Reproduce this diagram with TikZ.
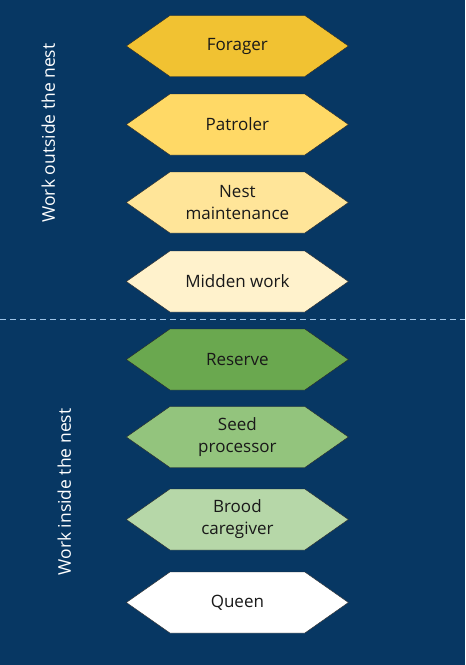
\documentclass[tikz,border=0pt]{standalone}
\usepackage{fontspec}
\setmainfont{Open Sans}
\usetikzlibrary{shapes.symbols}
\definecolor{NavyBg}{HTML}{073763}
\definecolor{SepBlue}{HTML}{9FC5E8}
\definecolor{ForagerFill}{HTML}{F1C232}
\definecolor{PatrolerFill}{HTML}{FFD966}
\definecolor{NestFill}{HTML}{FFE599}
\definecolor{MiddenFill}{HTML}{FFF2CC}
\definecolor{ReserveFill}{HTML}{6AA84F}
\definecolor{SeedFill}{HTML}{93C47D}
\definecolor{BroodFill}{HTML}{B6D7A8}
\tikzstyle{RoleNode}=[signal, signal to=west and east, signal pointer angle=70, draw=black!85, thin, minimum width=222pt, minimum height=61pt, inner sep=0pt, align=center, text=black!90, font=\fontsize{17}{22}\selectfont]
\tikzstyle{SideLabel}=[rotate=90, text=white, font=\fontsize{17.5}{20}\selectfont]
\tikzstyle{SepLine}=[draw=SepBlue, thick, dash pattern=on 6pt off 4pt]

\begin{document}
\begin{tikzpicture}[x=1pt, y=-1pt]
\fill[NavyBg] (0,0) rectangle (465,665);

\node[RoleNode, fill=ForagerFill](Forager) at (237,46) {Forager};
\node[RoleNode, fill=PatrolerFill](Patroler) at (237,124.5) {Patroler};
\node[RoleNode, fill=NestFill](NestMaint) at (237,202.5) {Nest\\maintenance};
\node[RoleNode, fill=MiddenFill](Midden) at (237,281.5) {Midden work};
\node[RoleNode, fill=ReserveFill](Reserve) at (237,359.5) {Reserve};
\node[RoleNode, fill=SeedFill](Seed) at (237,437) {Seed\\processor};
\node[RoleNode, fill=BroodFill](Brood) at (237,519.5) {Brood\\caregiver};
\node[RoleNode, fill=white](Queen) at (237,602.5) {Queen};

\node[SideLabel](Outside) at (48,133) {Work outside the nest};
\node[SideLabel](Inside) at (64,492) {Work inside the nest};

\coordinate (SepL) at (0,319);
\coordinate (SepR) at (465,319);
\draw[SepLine](SepL) -- (SepR);
\end{tikzpicture}
\end{document}
